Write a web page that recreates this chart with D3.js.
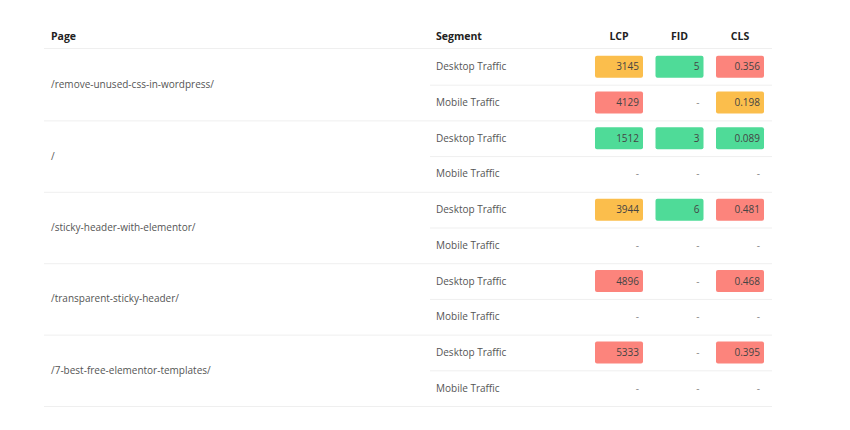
<!DOCTYPE html>
<html><head><meta charset="utf-8">
<script src="https://cdn.jsdelivr.net/npm/d3@7"></script>
<style>body{margin:0;background:#fff;font-family:"Open Sans","Noto Sans",sans-serif;}</style>
</head><body><svg id="c" width="850" height="430"></svg>
<script>
const pages=["/remove-unused-css-in-wordpress/","/","/sticky-header-with-elementor/","/transparent-sticky-header/","/7-best-free-elementor-templates/"];
const segments=["Desktop Traffic","Mobile Traffic"];
const lcp=[3145,4129,1512,null,3944,null,4896,null,5333,null];
const fid=[5,null,3,null,6,null,null,null,null,null];
const cls=[0.356,0.198,0.089,null,0.481,null,0.468,null,0.395,null];
const headers=["Page","Segment","LCP","FID","CLS"];

const svg=d3.select("#c");
const rowsIdx=d3.range(pages.length*2);
const y=d3.scaleBand().domain(rowsIdx).range([49,406]);
const col=d3.scalePoint().domain(["LCP","FID","CLS"]).range([619,740]);
const cellW=48,cellH=22;
const colorOf={
 LCP:v=>v<=2500?"#4fdb98":v<=4000?"#fbbe4c":"#fc847c",
 FID:v=>v<=100?"#4fdb98":v<=300?"#fbbe4c":"#fc847c",
 CLS:v=>v<=0.1?"#4fdb98":v<=0.25?"#fbbe4c":"#fc847c"};
const fmt={LCP:d=>String(d),FID:d=>String(d),CLS:d=>d3.format(".3f")(d)};
// header
svg.append("line").attr("x1",44).attr("x2",772).attr("y1",48.5).attr("y2",48.5).attr("stroke","#efefef");
svg.append("text").attr("x",51).attr("y",40).text("Page");
svg.append("text").attr("x",436).attr("y",40).text("Segment");
["LCP","FID","CLS"].forEach(h=>svg.append("text").attr("x",col(h)).attr("y",40).attr("text-anchor","middle").text(h));
svg.selectAll("text").attr("font-size",10.5).attr("font-weight",700).attr("fill","#222");

const g=svg.append("g").attr("font-size",10);
rowsIdx.forEach(i=>{
  g.append("line").attr("x1",i%2===0?430:44).attr("x2",772).attr("y1",y(i)+y.bandwidth()+0.5).attr("y2",y(i)+y.bandwidth()+0.5).attr("stroke","#efefef");
  const cy=y(i)+y.bandwidth()/2;
  g.append("text").attr("x",436).attr("y",cy).attr("dy","0.35em").attr("fill","#555").text(segments[i%2]);
  const vals={LCP:lcp[i],FID:fid[i],CLS:cls[i]};
  ["LCP","FID","CLS"].forEach(k=>{
    const v=vals[k],cx=col(k);
    if(v!=null){
      g.append("rect").attr("x",cx-cellW/2).attr("y",cy-cellH/2).attr("width",cellW).attr("height",cellH).attr("rx",2).attr("fill",colorOf[k](v));
    }
    g.append("text").attr("x",cx+cellW/2-4).attr("y",cy).attr("dy","0.35em").attr("text-anchor","end").attr("fill",v!=null?"#444":"#888").text(v!=null?fmt[k](v):"-");
  });
});
pages.forEach((p,j)=>{
  g.append("text").attr("x",51).attr("y",y(j*2)+y.bandwidth()).attr("dy","0.35em").attr("fill","#555").text(p);
});
</script></body></html>
